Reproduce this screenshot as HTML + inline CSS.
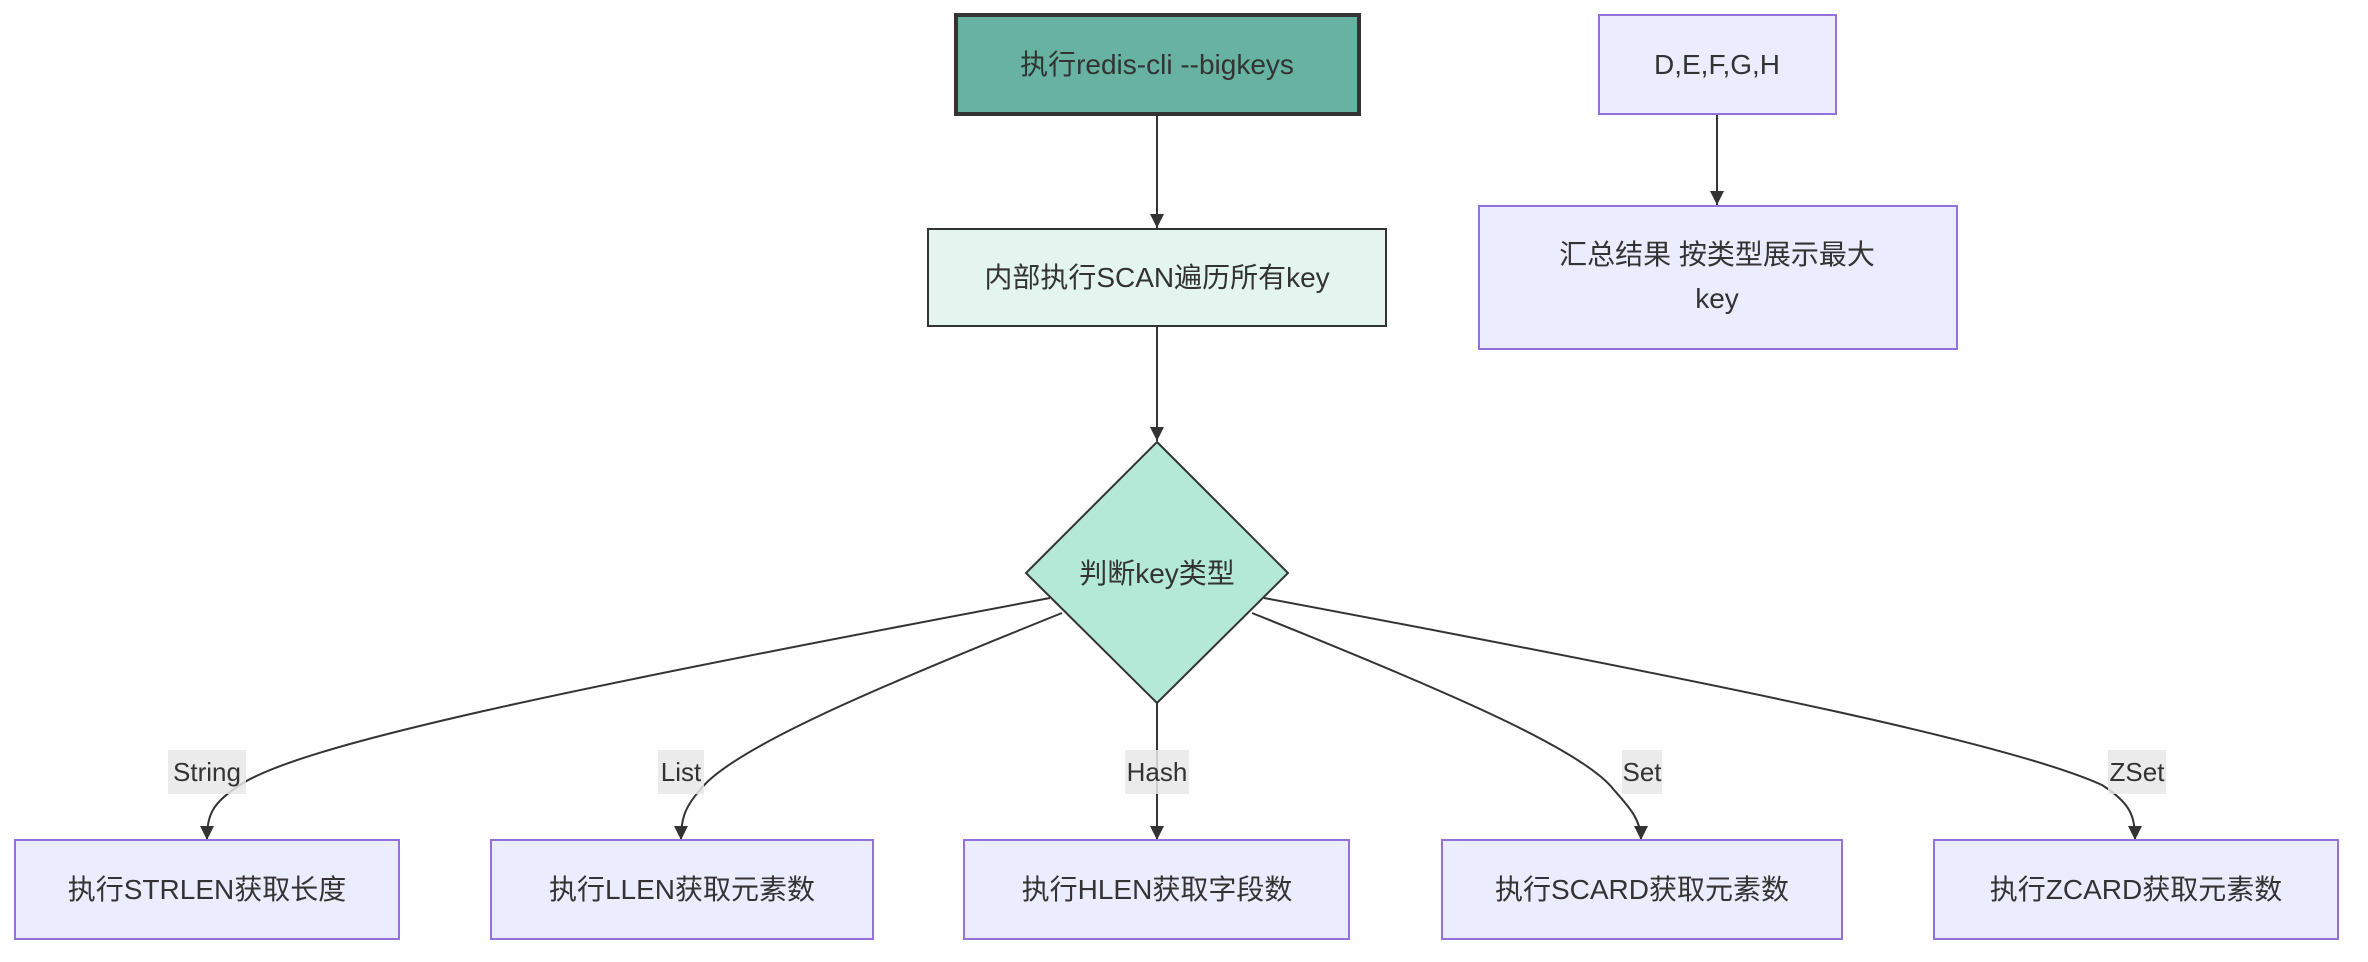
<!DOCTYPE html>
<html><head><meta charset="utf-8"><style>
html,body{margin:0;padding:0;background:#fff;}
svg{display:block;}
text{font-family:"Liberation Sans","Noto Sans CJK SC",sans-serif;fill:#333;}
</style></head><body>
<svg width="2368" height="962" viewBox="0 0 2368 962" xmlns="http://www.w3.org/2000/svg">
<defs>
<marker id="b" viewBox="0 0 10 10" refX="10" refY="5" markerWidth="14" markerHeight="14" markerUnits="userSpaceOnUse" orient="auto">
<path d="M0,0 L10,5 L0,10 z" fill="#333"/></marker>
</defs>
<g stroke="#333" stroke-width="2" fill="none">
<path d="M1157,115 L1157,228" marker-end="url(#b)"/>
<path d="M1157,326 L1157,441" marker-end="url(#b)"/>
<path d="M1717,115 L1717,205" marker-end="url(#b)"/>
<path d="M1050,598 C560,690 300,745 240,785 C212,803 207,815 207,840" marker-end="url(#b)"/>
<path d="M1062,613 C870,690 730,750 700,790 C684,808 681,820 681,840" marker-end="url(#b)"/>
<path d="M1157,703 L1157,840" marker-end="url(#b)"/>
<path d="M1252,613 C1444,690 1584,750 1614,790 C1630,808 1641,820 1641,840" marker-end="url(#b)"/>
<path d="M1264,598 C1754,690 2014,745 2102,785 C2130,803 2135,815 2135,840" marker-end="url(#b)"/>
</g>
<rect x="956" y="15" width="403" height="99" fill="#67b2a0" stroke="#333" stroke-width="4"/>
<text x="1157" y="74" font-size="28" text-anchor="middle">执行redis-cli --bigkeys</text>
<rect x="928" y="229" width="458" height="97" fill="#e3f5ee" stroke="#333" stroke-width="2"/>
<text x="1157" y="287" font-size="28" text-anchor="middle">内部执行SCAN遍历所有key</text>
<polygon points="1157,442 1288,573 1157,703 1026,573" fill="#b3e9d6" stroke="#333" stroke-width="2"/>
<text x="1157" y="583" font-size="28" text-anchor="middle">判断key类型</text>
<rect x="1599" y="15" width="237" height="99" fill="#ececff" stroke="#9370db" stroke-width="2"/>
<text x="1717" y="74" font-size="28" text-anchor="middle">D,E,F,G,H</text>
<rect x="1479" y="206" width="478" height="143" fill="#ececff" stroke="#9370db" stroke-width="2"/>
<text x="1717" y="264" font-size="28" text-anchor="middle">汇总结果 按类型展示最大</text>
<text x="1717" y="308" font-size="28" text-anchor="middle">key</text>
<g fill="#ececff" stroke="#9370db" stroke-width="2">
<rect x="15" y="840" width="384" height="99"/>
<rect x="491" y="840" width="382" height="99"/>
<rect x="964" y="840" width="385" height="99"/>
<rect x="1442" y="840" width="400" height="99"/>
<rect x="1934" y="840" width="404" height="99"/>
</g>
<g font-size="28" text-anchor="middle">
<text x="207" y="899">执行STRLEN获取长度</text>
<text x="682" y="899">执行LLEN获取元素数</text>
<text x="1157" y="899">执行HLEN获取字段数</text>
<text x="1642" y="899">执行SCARD获取元素数</text>
<text x="2136" y="899">执行ZCARD获取元素数</text>
</g>
<g fill="rgba(232,232,232,0.85)">
<rect x="168" y="750" width="78" height="44"/>
<rect x="658" y="750" width="46" height="44"/>
<rect x="1125" y="750" width="64" height="44"/>
<rect x="1622" y="750" width="40" height="44"/>
<rect x="2108" y="750" width="58" height="44"/>
</g>
<g font-size="26" text-anchor="middle">
<text x="207" y="781">String</text>
<text x="681" y="781">List</text>
<text x="1157" y="781">Hash</text>
<text x="1642" y="781">Set</text>
<text x="2137" y="781">ZSet</text>
</g>
</svg>
</body></html>
